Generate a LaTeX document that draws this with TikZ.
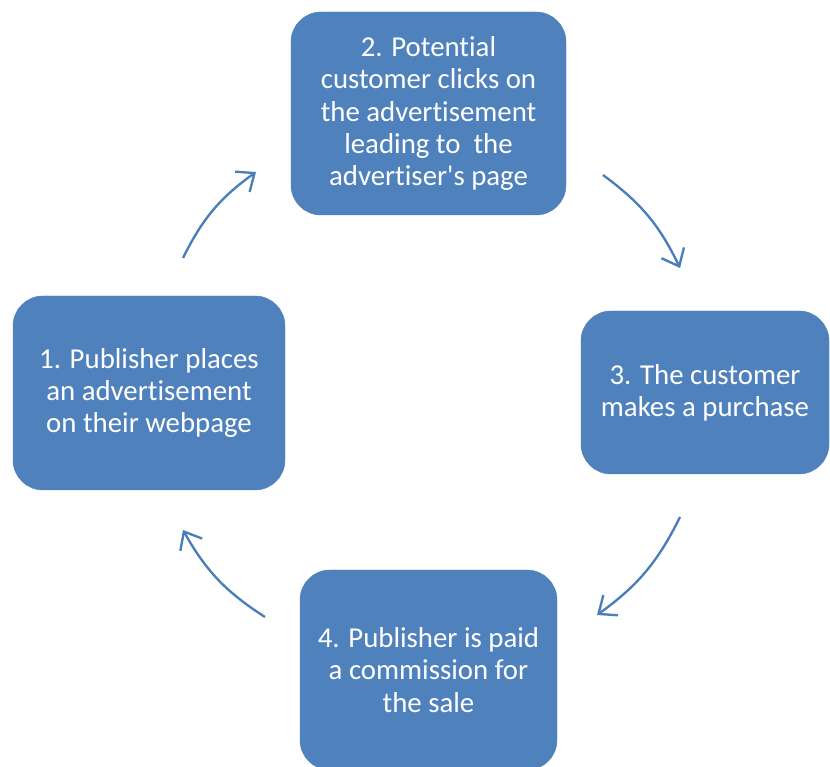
\documentclass[tikz,border=0pt]{standalone}
\usepackage{fontspec}
\setmainfont{Carlito}[Ligatures=NoCommon]
\usepackage{tikz}
\usetikzlibrary{calc,arrows.meta,shapes}
\usetikzlibrary{positioning}

\definecolor{stepblue}{RGB}{79,129,189}
\definecolor{arrowblue}{RGB}{74,126,187}

\tikzset{
	stepbox/.style={draw=stepblue, fill=stepblue, rounded corners=0.9cm, text=white, align=center, inner sep=0pt, font=\fontsize{24.6}{27.6}\selectfont},
	cyclearrow/.style={arrowblue, line width=2pt, -{Straight Barb[length=0.45cm,width=0.75cm,line width=2pt]}}
}

\begin{document}
\begin{tikzpicture}[x=0.03cm,y=-0.03cm]
		
		\useasboundingbox (0,0) rectangle (830,767);
		
		% the four steps
		\node[stepbox, minimum width=272*0.03cm, minimum height=194*0.03cm] (publisher) at (149,393) {1. Publisher places\\an advertisement\\on their webpage};
		\node[stepbox, minimum width=275*0.03cm, minimum height=203*0.03cm] (click) at (428.5,113.5) {2. Potential\\customer clicks on\\the advertisement\\leading to\ \ the\\advertiser\textquotesingle s page};
		\node[stepbox, minimum width=248*0.03cm, minimum height=163*0.03cm] (purchase) at (705,392.5) {3. The customer\\makes a purchase};
		\node[stepbox, minimum width=257*0.03cm, minimum height=200*0.03cm] (commission) at (428.5,670) {4. Publisher is paid\\a commission for\\the sale};
		
		% arrow ends
		\coordinate (a1) at (183,258);
		\coordinate (a2) at (256,172);
		\coordinate (b1) at (603,175);
		\coordinate (b2) at (680,268);
		\coordinate (c1) at (680,517);
		\coordinate (c2) at (597,615);
		\coordinate (d1) at (265,617);
		\coordinate (d2) at (183,530);
		
		\draw[cyclearrow] (a1) to[bend left=14] (a2);
		\draw[cyclearrow] (b1) to[bend left=14] (b2);
		\draw[cyclearrow] (c1) to[bend left=14] (c2);
		\draw[cyclearrow] (d1) to[bend left=14] (d2);
		
	\end{tikzpicture}
\end{document}
